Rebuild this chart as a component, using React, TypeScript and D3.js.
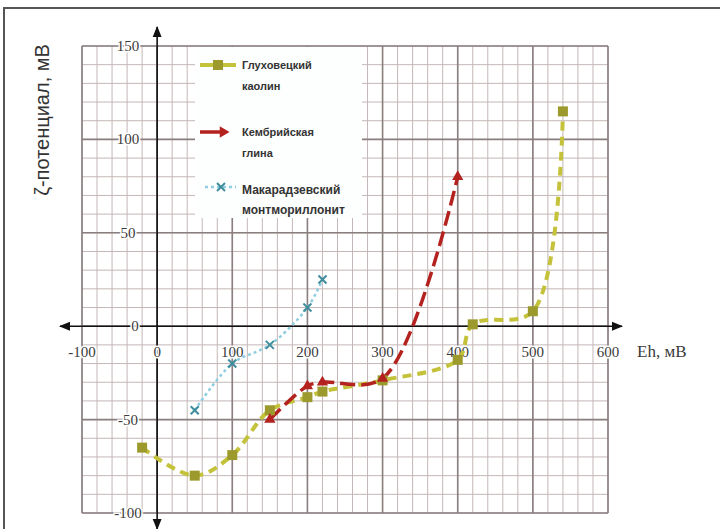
import * as d3 from 'd3';

// Eh, mV (x) and zeta potential, mV (y) for each clay
const kaolinEh = [-20, 50, 100, 150, 200, 220, 300, 400, 420, 500, 540];
const kaolinZeta = [-65, -80, -69, -45, -38, -35, -29, -18, 1, 8, 115];
const cambrianEh = [150, 200, 220, 300, 400];
const cambrianZeta = [-50, -32, -30, -28, 80];
const montEh = [50, 100, 150, 200, 220];
const montZeta = [-45, -20, -10, 10, 25];

const xTicks = [-100, 0, 100, 200, 300, 400, 500, 600];
const yTicks = [-100, -50, 50, 100, 150];
const legendNames = [
  ['Глуховецкий', 'каолин'],
  ['Кембрийская', 'глина'],
  ['Макарадзевский', 'монтмориллонит'],
];

const width = 720;
const height = 529;

export default function App() {
  //Scales
  const x = d3.scaleLinear().domain([-100, 600]).range([82, 608]);
  const y = d3.scaleLinear().domain([-100, 150]).range([513, 46]);

  const minorX = d3.range(-100, 601, 20);
  const minorY = d3.range(-100, 151, 10);
  const majorX = d3.range(-100, 601, 100);
  const majorY = d3.range(-100, 151, 50);

  const line = d3
    .line<[number, number]>()
    .x((d) => x(d[0]))
    .y((d) => y(d[1]))
    .curve(d3.curveCatmullRom.alpha(0.5));

  const kaolin = kaolinEh.map((v, i) => [v, kaolinZeta[i]] as [number, number]);
  const cambrian = cambrianEh.map((v, i) => [v, cambrianZeta[i]] as [number, number]);
  const mont = montEh.map((v, i) => [v, montZeta[i]] as [number, number]);

  const olive = '#9c9a2c';
  const oliveLine = '#c4c23a';
  const red = '#b3221e';
  const blueLine = '#8fcde0';
  const blueMark = '#3f8d9c';

  const tri = d3.symbol(d3.symbolTriangle, 55)() as string;

  const xMark = (cx: number, cy: number, k: string) => (
    <g key={k} stroke={blueMark} strokeWidth={2}>
      <line x1={cx - 4} y1={cy - 4} x2={cx + 4} y2={cy + 4} />
      <line x1={cx - 4} y1={cy + 4} x2={cx + 4} y2={cy - 4} />
    </g>
  );

  const y0 = y(0);
  const x0 = x(0);

  return (
    <div style={{ position: 'absolute', left: 0, top: 0 }}>
      <svg width={width} height={height} style={{ display: 'block', background: '#fff' }}>
        <defs>
          <marker id="arr" viewBox="0 0 10 10" refX="9" refY="5" markerWidth="7" markerHeight="7" orient="auto-start-reverse">
            <path d="M0,1 L10,5 L0,9 z" fill="#111" />
          </marker>
        </defs>

        {/* frame */}
        <rect x={4} y={8} width={800} height={600} fill="none" stroke="#555" strokeWidth={2} />

        {/* grid */}
        <g>
          {minorX.map((v) => (
            <line key={'mx' + v} x1={x(v)} x2={x(v)} y1={y(-100)} y2={y(150)} stroke="#c4b7b7" strokeWidth={1} />
          ))}
          {minorY.map((v) => (
            <line key={'my' + v} x1={x(-100)} x2={x(600)} y1={y(v)} y2={y(v)} stroke="#c4b7b7" strokeWidth={1} />
          ))}
          {majorX.map((v) => (
            <line key={'Mx' + v} x1={x(v)} x2={x(v)} y1={y(-100)} y2={y(150)} stroke="#8a7e7f" strokeWidth={1.6} />
          ))}
          {majorY.map((v) => (
            <line key={'My' + v} x1={x(-100)} x2={x(600)} y1={y(v)} y2={y(v)} stroke="#8a7e7f" strokeWidth={1.6} />
          ))}
        </g>

        {/* legend box */}
        <rect x={195} y={47} width={167} height={171} fill="#fdfefe" />

        {/* axes */}
        <line x1={x0} x2={622} y1={y0} y2={y0} stroke="#111" strokeWidth={1.6} markerEnd="url(#arr)" />
        <line x1={x0} x2={60} y1={y0} y2={y0} stroke="#111" strokeWidth={1.6} markerEnd="url(#arr)" />
        <line x1={x0} x2={x0} y1={y0} y2={27} stroke="#111" strokeWidth={1.6} markerEnd="url(#arr)" />
        <line x1={x0} x2={x0} y1={y0} y2={529} stroke="#111" strokeWidth={1.6} markerEnd="url(#arr)" />

        {/* tick labels */}
        <g
          fontFamily="Liberation Serif, serif"
          fontSize={15}
          fill="#3a3a3a"
          textAnchor="middle"
          stroke="#fff"
          strokeWidth={3}
          paintOrder="stroke"
        >
          {xTicks.map((v) => (
            <text key={'xt' + v} x={x(v)} y={y0 + 31}>
              {v}
            </text>
          ))}
          {yTicks.map((v) => (
            <text key={'yt' + v} x={128} y={y(v) + 5}>
              {v}
            </text>
          ))}
          <text x={135} y={y0 + 5}>0</text>
          <text x={637} y={y0 + 31} textAnchor="start" fontSize={17}>
            Eh, мВ
          </text>
        </g>

        <text
          transform={`translate(49,120) rotate(-90)`}
          textAnchor="middle"
          fontFamily="Liberation Sans, sans-serif"
          fontSize={20}
          fill="#333"
        >
          ζ-потенциал, мВ
        </text>

        {/* series */}
        <path d={line(kaolin) as string} fill="none" stroke={oliveLine} strokeWidth={4} strokeDasharray="9,6" />
        <path d={line(cambrian) as string} fill="none" stroke={red} strokeWidth={3.5} strokeDasharray="15,6" />
        <path d={line(mont) as string} fill="none" stroke={blueLine} strokeWidth={2.5} strokeDasharray="3,3" />

        {kaolin.map((d, i) => (
          <rect key={'k' + i} x={x(d[0]) - 5} y={y(d[1]) - 5} width={10} height={10} fill={olive} />
        ))}
        {cambrian.map((d, i) => (
          <path key={'c' + i} d={tri} transform={`translate(${x(d[0])},${y(d[1])})`} fill={red} />
        ))}
        {mont.map((d, i) => xMark(x(d[0]), y(d[1]), 'm' + i))}

        {/* legend */}
        <g fontFamily="Liberation Sans, sans-serif" fontSize={11} fill="#333" fontWeight="bold">
          <line x1={200} x2={236} y1={65} y2={65} stroke={oliveLine} strokeWidth={4} />
          <rect x={213} y={60} width={10} height={10} fill={olive} />
          <text x={242} y={69}>{legendNames[0][0]}</text>
          <text x={242} y={90}>{legendNames[0][1]}</text>

          <line x1={200} x2={224} y1={132} y2={132} stroke={red} strokeWidth={3.5} />
          <path d={tri} transform="translate(223,132) rotate(90)" fill={red} />
          <text x={242} y={136}>{legendNames[1][0]}</text>
          <text x={242} y={157}>{legendNames[1][1]}</text>

          <line x1={205} x2={236} y1={187} y2={187} stroke={blueLine} strokeWidth={2.5} strokeDasharray="3,3" />
          {xMark(221, 187, 'lm')}
          <text x={242} y={194} fontSize={12}>{legendNames[2][0]}</text>
          <text x={242} y={214} fontSize={12}>{legendNames[2][1]}</text>
        </g>
      </svg>
    </div>
  );
}
